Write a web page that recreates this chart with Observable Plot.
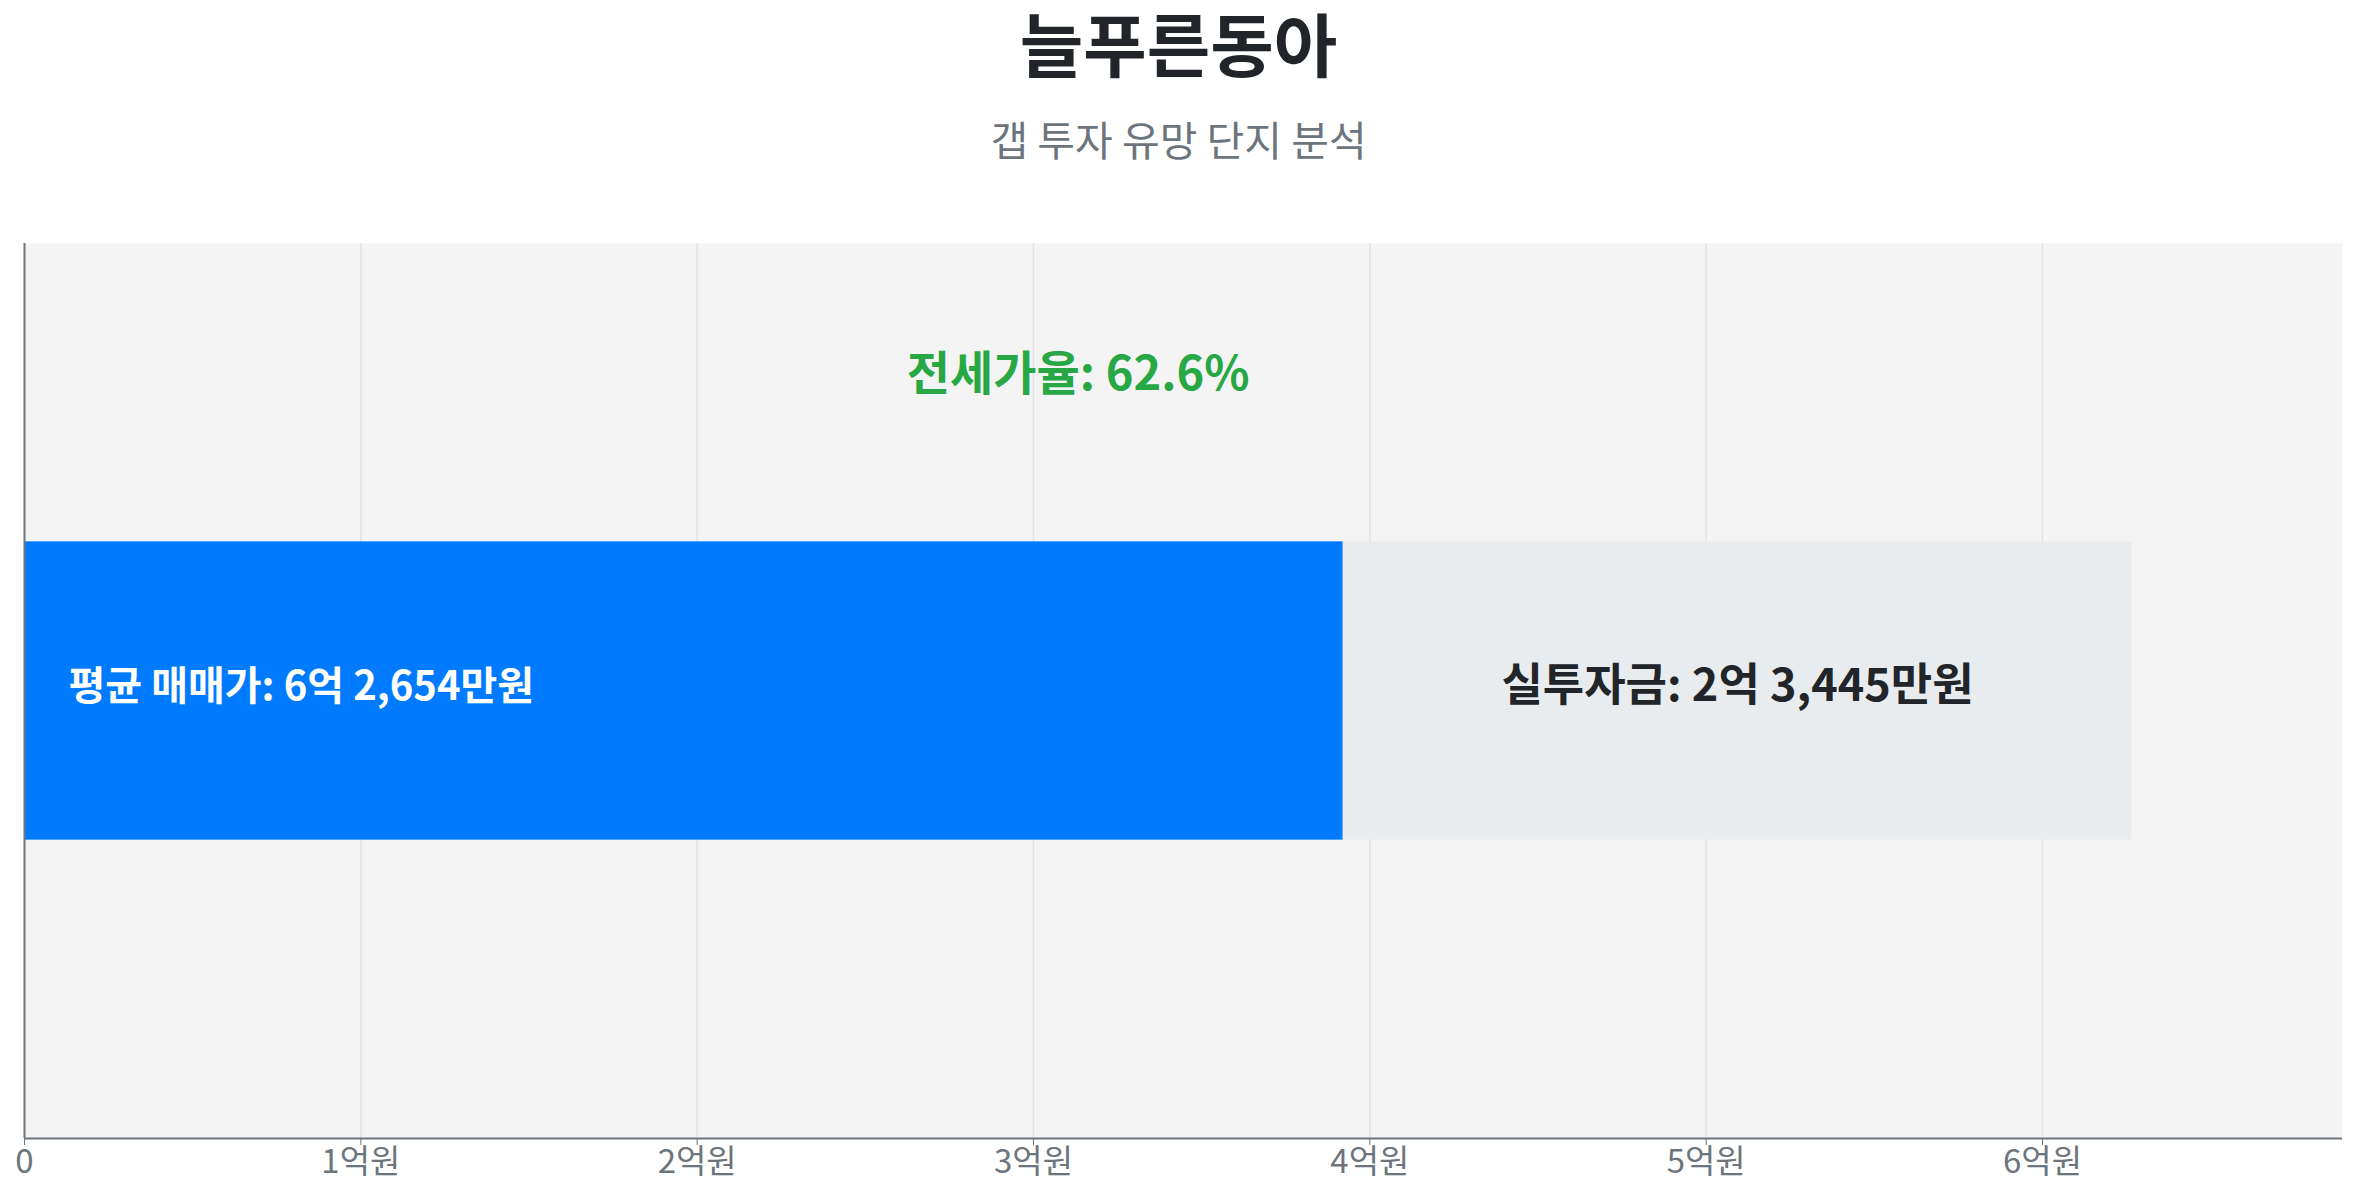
<!DOCTYPE html>
<html>
<head>
<meta charset="utf-8">
<script src="https://cdn.jsdelivr.net/npm/d3@7"></script>
<script src="https://cdn.jsdelivr.net/npm/@observablehq/plot@0.6"></script>
<style>
  html, body { margin: 0; padding: 0; background: #fff; }
  body { width: 2357px; height: 1200px; position: relative; overflow: hidden; font-family: "Noto Sans CJK KR", "Noto Sans", sans-serif; }
  #title { position: absolute; left: 0; width: 2357px; top: 0px; height: 84px; line-height: 84px; font-size: 69px; font-weight: 700; color: #212529; text-align: center; }
  #subtitle { position: absolute; left: 0; width: 2357px; top: 112px; height: 52px; line-height: 52px; font-size: 41px; font-weight: 400; color: #6c757d; text-align: center; }
  #chart { position: absolute; left: 0; top: 200px; }
</style>
</head>
<body>
<div id="title"></div>
<div id="subtitle"></div>
<div id="chart"></div>
<script>
// ---- data ----
const complexName = "늘푸른동아";
const subtitleText = "갭 투자 유망 단지 분석";
const avgPrice = 62654;      // 만원
const investment = 23445;    // 만원 (실투자금)
const jeonseRatio = 62.6;    // %
const segmentNames = ["전세금", "실투자금"];
const segmentValues = [avgPrice - investment, investment];
const segmentColors = ["#007bff", "#e9ecef"];
const tickValues = [0, 10000, 20000, 30000, 40000, 50000, 60000];
const tickLabels = ["0", "1억원", "2억원", "3억원", "4억원", "5억원", "6억원"];

function fmtWon(v) {
  const eok = Math.floor(v / 10000);
  const man = v % 10000;
  return `${eok}억 ${d3.format(",")(man)}만원`;
}

document.getElementById("title").textContent = complexName;
document.getElementById("subtitle").textContent = subtitleText;

// build segments
let acc = 0;
const segments = segmentNames.map((name, i) => {
  const s = {name, x1: acc, x2: acc + segmentValues[i], color: segmentColors[i]};
  acc += segmentValues[i];
  return s;
});

const font = "Noto Sans CJK KR";

const chart = Plot.plot({
  width: 2357,
  height: 1000,
  marginLeft: 24,
  marginRight: 15,
  marginTop: 43,
  marginBottom: 62,
  style: {fontFamily: font, background: "transparent"},
  x: {domain: [0, avgPrice * 1.1]},
  y: {domain: [0, 3], axis: null},
  marks: [
    Plot.frame({fill: "#f4f4f4", stroke: null}),
    Plot.gridX(tickValues.slice(1), {stroke: "#e3e3e3", strokeOpacity: 1, strokeWidth: 1.5}),
    Plot.rect(segments, {x1: "x1", x2: "x2", y1: 1, y2: 2, fill: "color"}),
    Plot.ruleX([0], {stroke: "#6c757d", strokeWidth: 2}),
    Plot.ruleY([0], {stroke: "#6c757d", strokeWidth: 2}),
    Plot.axisX({
      ticks: tickValues,
      tickFormat: (d) => tickLabels[tickValues.indexOf(d)],
      tickSize: 7,
      tickPadding: 4,
      fontSize: 33,
      stroke: "#6c757d",
      color: "#6c757d",
      label: null
    }),
    Plot.text([segments[0]], {
      x: "x1", y: 1.5, dx: 44, dy: -4,
      text: () => `평균 매매가: ${fmtWon(avgPrice)}`,
      textAnchor: "start", fill: "#ffffff", fontSize: 40, fontWeight: 700
    }),
    Plot.text([segments[1]], {
      x: (d) => (d.x1 + d.x2) / 2, y: 1.5, dy: -4,
      text: (d) => `실투자금: ${fmtWon(investment)}`,
      textAnchor: "middle", fill: "#212529", fontSize: 45, fontWeight: 700
    }),
    Plot.text([jeonseRatio], {
      x: avgPrice / 2, y: 2.5, dy: -18,
      text: (d) => `전세가율: ${d}%`,
      textAnchor: "middle", fill: "#28a745", fontSize: 47, fontWeight: 700
    })
  ]
});
document.getElementById("chart").appendChild(chart);
</script>
</body>
</html>
